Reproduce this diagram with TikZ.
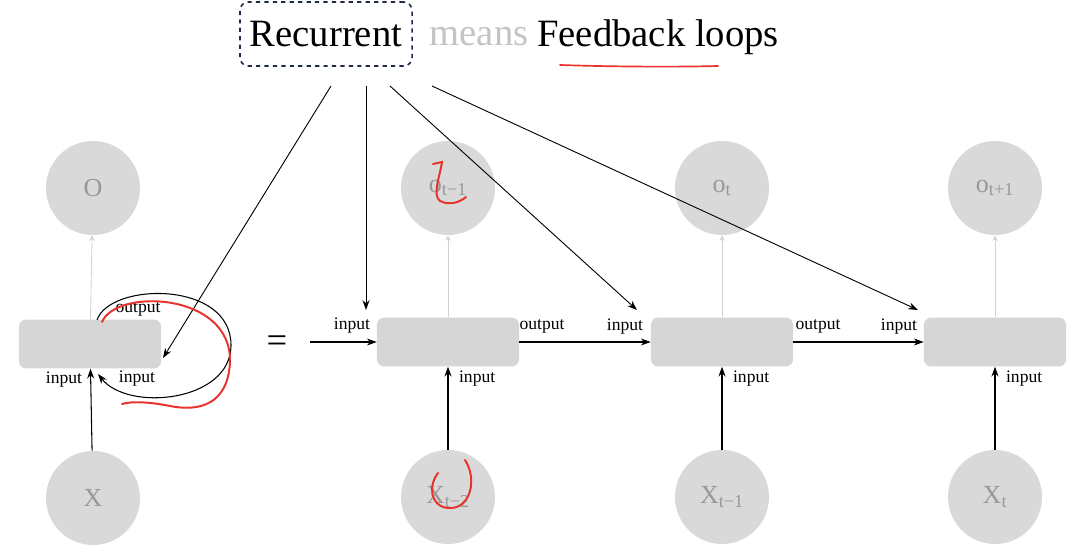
\documentclass[tikz,border=0pt]{standalone}
\usepackage{fontspec}
\setmainfont{Liberation Serif}
\usetikzlibrary{arrows.meta}
\definecolor{cellgray}{HTML}{D6D6D6}
\definecolor{unitgray}{HTML}{D9D9D9}
\definecolor{unittext}{HTML}{989898}
\definecolor{meansgray}{HTML}{C4C4C4}
\definecolor{navy}{HTML}{1F2A4A}
\definecolor{faint}{HTML}{D2D2D2}
\definecolor{pen}{HTML}{E8322A}
\begin{document}
\begin{tikzpicture}[%
    x=0.025cm, y=-0.025cm,      % one unit is one pixel of the slide
    >={Stealth[length=7pt,width=5pt]},
    ]
% -------------------------------------------------
% Styles for the slide
\tikzset{
  title/.style={font=\fontsize{27.5}{31}\selectfont, inner sep=0pt},
  titlebox/.style={title, draw=navy, dashed, line width=1.1pt, rounded corners=6pt,
    minimum width=4.3cm, minimum height=1.6cm},
  unit/.style={circle, fill=unitgray, minimum size=2.35cm, inner sep=0pt,
    text=unittext, font=\fontsize{18.5}{20}\selectfont},
  cell/.style={rectangle, rounded corners=5pt, fill=cellgray,
    minimum width=3.55cm, minimum height=1.22cm},
  lbl/.style={font=\fontsize{12.5}{14}\selectfont, inner sep=0pt},
  norm/.style={->, draw, line width=0.75pt},
  feed/.style={-{Stealth[length=4pt,width=4pt]}, draw=faint, line width=0.6pt},
  scribble/.style={draw=pen, line width=1.4pt, line cap=round},
}
\useasboundingbox (0,0) rectangle (1072,550);
% -------------------------------------------------
% Title line
\node [titlebox] (rec) at (326,34) {Recurrent};
\node [title, text=meansgray] (means) at (479,37) {means};
\node [title] (fb) at (658,37) {Feedback loops};
\draw [scribble, line width=1.2pt] (560,65) .. controls (620,67) and (680,67) .. (718,66);
% -------------------------------------------------
% Folded network on the left
\node [unit] (o0) at (93,188) {O};
\node [cell] (h0) at (90,344) {};
\node [unit] (x0) at (93,498) {X};
\draw [feed] (h0) -- (o0);
\draw [norm] (x0) -- (h0);
\draw [norm] (97,320) .. controls (110,282) and (232,280) .. (231,346)
  .. controls (230,402) and (128,412) .. (98,374);
\node [lbl] (lo0) at (138,309) {output};
\node [lbl] (li0a) at (64,380) {input};
\node [lbl] (li0b) at (137,379) {input};
\node [font=\fontsize{26}{30}\selectfont] (eq) at (277,344) {=};
% -------------------------------------------------
% Unrolled network
\foreach \n/\x/\o/\i in {1/448/o\textsubscript{t−1}/X\textsubscript{t−2},
                         2/722/o\textsubscript{t}/X\textsubscript{t−1},
                         3/995/o\textsubscript{t+1}/X\textsubscript{t}} {
  \node [unit] (o\n) at (\x,188) {\o};
  \node [cell] (h\n) at (\x,342) {};
  \node [unit] (x\n) at (\x,497) {\i};
  \draw [feed] (h\n) -- (o\n);
  \draw [norm] (x\n) -- (h\n);
  \node [lbl, anchor=west] (li\n) at ([xshift=0.27cm,yshift=-0.3cm]h\n.south) {input};
}
\coordinate (in1) at (310,342);
\draw [norm] (in1) -- (h1);
\draw [norm] (h1) -- (h2);
\draw [norm] (h2) -- (h3);
\node [lbl] (la1) at (352,326) {input};
\node [lbl] (lo1) at (542,326) {output};
\node [lbl] (la2) at (625,327) {input};
\node [lbl] (lo2) at (818,326) {output};
\node [lbl] (la3) at (899,327) {input};
% -------------------------------------------------
% Pointers from the word Recurrent
\coordinate (s0) at (331,86);
\coordinate (s1) at (366,86);
\coordinate (s2) at (390,86);
\coordinate (s3) at (432,86);
\coordinate (e0) at (163,358);
\coordinate (e1) at (366,310);
\coordinate (e2) at (637,310);
\coordinate (e3) at (918,310);
\foreach \k in {0,...,3} {\draw [norm, line width=0.65pt] (s\k) -- (e\k);}
% -------------------------------------------------
% Hand-drawn red marks
\draw [scribble] (102,322) .. controls (116,288) and (232,292) .. (230,362)
  .. controls (228,404) and (200,412) .. (170,406)
  .. controls (150,402) and (132,401) .. (122,404);
\draw [scribble] (433,164) -- (442,162) .. controls (440,176) and (432,195) .. (440,201)
  .. controls (450,206) and (460,202) .. (466,197);
\draw [scribble] (438,473) .. controls (428,486) and (430,506) .. (448,508)
  .. controls (470,510) and (478,480) .. (465,460);
% -------------------------------------------------
\end{tikzpicture}
\end{document}
